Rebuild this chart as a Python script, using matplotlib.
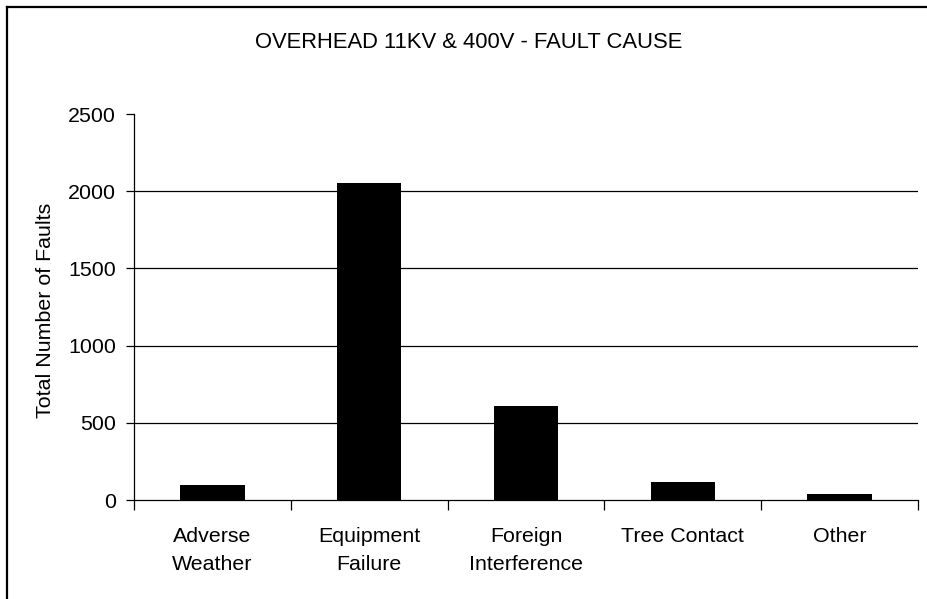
import matplotlib
matplotlib.use("Agg")
import matplotlib.pyplot as plt
from matplotlib.lines import Line2D
from matplotlib.ticker import FixedLocator, NullFormatter

categories = ["Adverse\nWeather", "Equipment\nFailure", "Foreign\nInterference",
              "Tree Contact", "Other"]
fault_counts = [100, 2050, 610, 115, 37]
y_ticks = [0, 500, 1000, 1500, 2000, 2500]

plt.rcParams["font.family"] = ["Liberation Sans", "DejaVu Sans"]

W, H = 928, 599
FS = 15.4
fig = plt.figure(figsize=(W / 100, H / 100), dpi=100)
ax = fig.add_axes([134 / W, 1 - 500 / H, (918 - 134) / W, (500 - 114) / H])

x = list(range(len(categories)))
ax.bar(x, fault_counts, width=0.41, color="black", zorder=3)

ax.set_xlim(-0.5, len(categories) - 0.5)
ax.set_ylim(0, 2500)
ax.set_yticks(y_ticks)
ax.set_yticklabels([str(v) for v in y_ticks], fontsize=FS)

# gridlines (no line at the top of the range)
for v in y_ticks[1:-1]:
    ax.axhline(v, color="black", lw=0.9, zorder=1)

ax.set_xticks(x)
ax.set_xticklabels(categories, fontsize=FS, linespacing=1.6)
ax.tick_params(axis="x", which="major", length=0, pad=19.5)
ax.xaxis.set_minor_locator(FixedLocator([i - 0.5 for i in range(len(categories) + 1)]))
ax.xaxis.set_minor_formatter(NullFormatter())
ax.tick_params(axis="x", which="minor", length=7, width=0.9, direction="out")
ax.tick_params(axis="y", length=6, width=0.9, direction="out", pad=7)

for side in ("top", "right"):
    ax.spines[side].set_visible(False)
for side in ("left", "bottom"):
    ax.spines[side].set_linewidth(0.9)

ax.set_ylabel("Total Number of Faults", fontsize=FS)
ax.yaxis.set_label_coords((55 - 134) / (918 - 134), 0.49)

fig.text(469 / W, 1 - 42 / H, "OVERHEAD 11KV & 400V - FAULT CAUSE",
         ha="center", va="center", fontsize=FS + 0.4)

# chart frame along the left and top edges
fig.add_artist(Line2D([7 / W, 7 / W], [0, 1 - 7 / H], transform=fig.transFigure,
                      color="black", lw=1.6))
fig.add_artist(Line2D([7 / W, 1], [1 - 7 / H, 1 - 7 / H], transform=fig.transFigure,
                      color="black", lw=1.6))

fig.savefig("out.png", dpi=100)
